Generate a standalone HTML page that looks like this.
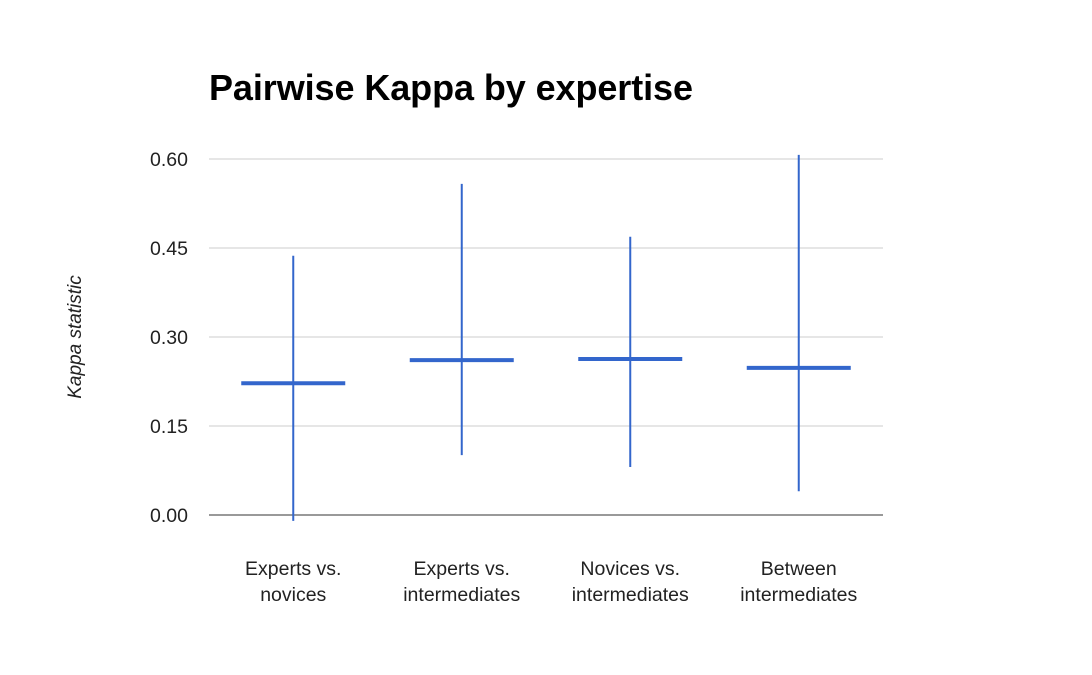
<!DOCTYPE html>
<html><head><meta charset="utf-8"><style>
body{margin:0;background:#fff;}
svg{display:block;font-family:"Liberation Sans",Arial,sans-serif;}
</style></head><body>
<svg id="chart" width="1092" height="675" viewBox="0 0 1092 675">
<rect width="1092" height="675" fill="#fff"/>
<text x="209" y="100" font-size="36" font-weight="bold" fill="#000" textLength="484">Pairwise Kappa by expertise</text>
<text transform="translate(81,337) rotate(-90)" text-anchor="middle" font-size="19" font-style="italic" fill="#222">Kappa statistic</text>
<g id="grid"></g><g id="marks"></g><g id="labels"></g>
</svg>
<script>
const categories=[["Experts vs.","novices"],["Experts vs.","intermediates"],["Novices vs.","intermediates"],["Between","intermediates"]];
const means=[0.222,0.261,0.263,0.248];
const lows=[-0.01,0.101,0.081,0.040];
const highs=[0.437,0.558,0.469,0.607];
const ticks=[0,0.15,0.30,0.45,0.60];
const tickLabels=["0.00","0.15","0.30","0.45","0.60"];
const NS="http://www.w3.org/2000/svg";
const x0=209,x1=883,yZero=515,yTop=159,vMax=0.6;
const y=v=>yZero-(v/vMax)*(yZero-yTop);
const band=(x1-x0)/categories.length;
const xc=i=>x0+band*(i+0.5);
function mk(t,a,p){const e=document.createElementNS(NS,t);for(const k in a)e.setAttribute(k,a[k]);p.appendChild(e);return e;}
const grid=document.getElementById('grid'),marks=document.getElementById('marks'),labels=document.getElementById('labels');
ticks.forEach((t,i)=>{
 const l=mk('line',{x1:x0,x2:x1,y1:y(t),y2:y(t),stroke:i==0?'#333':'#ccc','stroke-width':1},grid);
 
 
 const tx=mk('text',{x:188,y:y(t)+7,'text-anchor':'end','font-size':19.5,fill:'#222'},labels);
 tx.textContent=tickLabels[i];
 
 
});
categories.forEach((c,i)=>{
 const cx=xc(i);
 const w=mk('line',{x1:cx,x2:cx,y1:y(highs[i]),y2:y(lows[i]),stroke:'#3366cc','stroke-width':2},marks);
 
 
 const m=mk('line',{x1:cx-52,x2:cx+52,y1:y(means[i]),y2:y(means[i]),stroke:'#3366cc','stroke-width':4},marks);
 
 
 c.forEach((s,j)=>{
  const t=mk('text',{x:cx,y:575+j*26,'text-anchor':'middle','font-size':19.5,fill:'#222'},labels);
  t.textContent=s;
  
  
 });
});
</script>
</body></html>
